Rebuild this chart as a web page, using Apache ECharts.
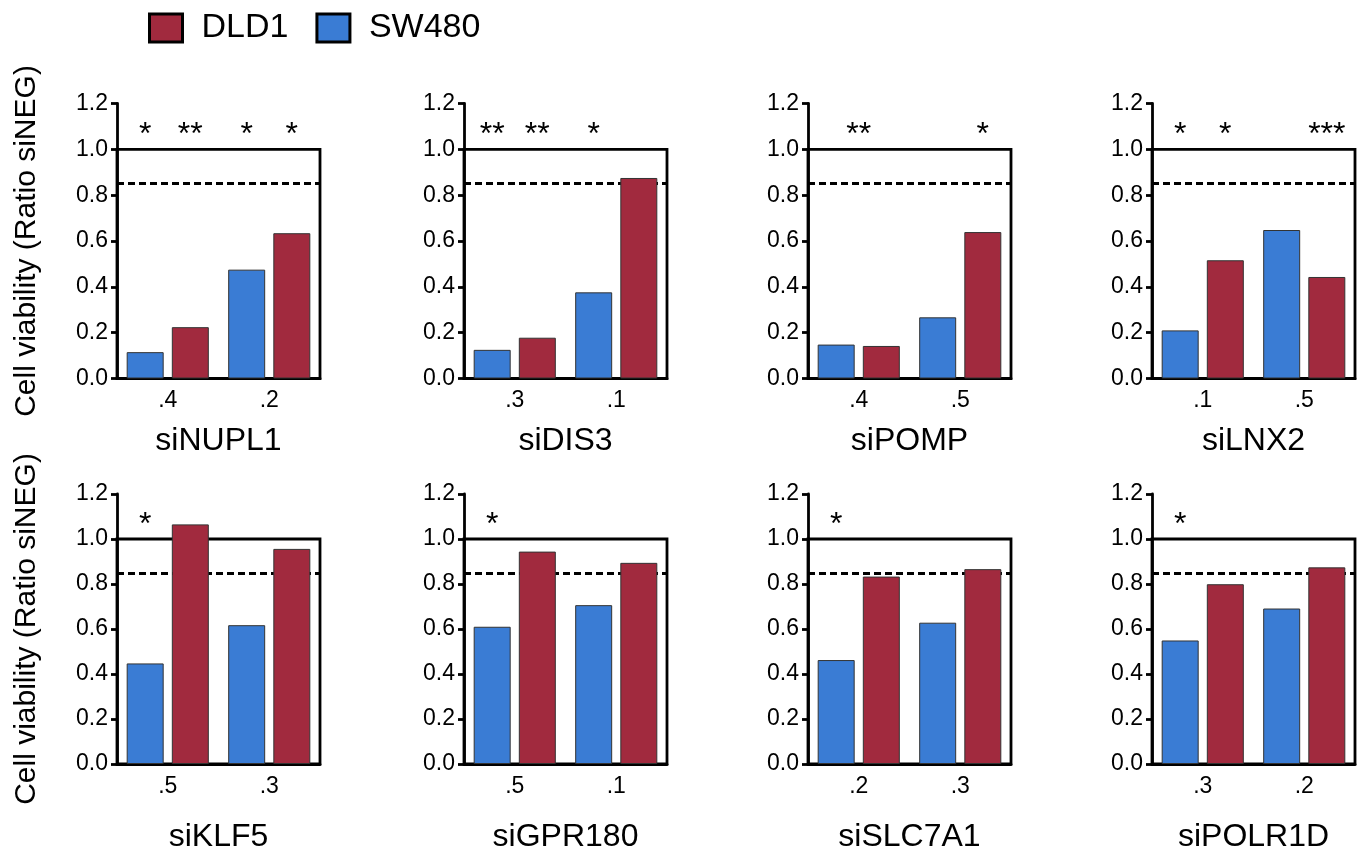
<!DOCTYPE html>
<html><head><meta charset="utf-8">
<script src="https://cdn.jsdelivr.net/npm/echarts@6/dist/echarts.min.js"></script>
<style>html,body{margin:0;padding:0;background:#fff}#c{width:1363px;height:854px}</style>
</head><body><div id="c"></div>
<script>
// ---- data ----
const panels = ['siNUPL1','siDIS3','siPOMP','siLNX2','siKLF5','siGPR180','siSLC7A1','siPOLR1D'];
const doseLabels = [['.4','.2'],['.3','.1'],['.4','.5'],['.1','.5'],['.5','.3'],['.5','.1'],['.2','.3'],['.3','.2']];
const sw480 = [[0.115,0.475],[0.125,0.376],[0.148,0.267],[0.21,0.648],[0.447,0.617],[0.61,0.706],[0.462,0.628],[0.549,0.691]];
const dld1  = [[0.224,0.634],[0.178,0.875],[0.142,0.639],[0.516,0.443],[1.065,0.956],[0.944,0.894],[0.833,0.866],[0.799,0.874]];
// [series ('SW480' | 'DLD1' | 'mid'), category index, text]
const stars = [
  [['SW480',0,'*'],['DLD1',0,'**'],['SW480',1,'*'],['DLD1',1,'*']],
  [['SW480',0,'**'],['DLD1',0,'**'],['SW480',1,'*']],
  [['mid',0,'**'],['DLD1',1,'*']],
  [['SW480',0,'*'],['DLD1',0,'*'],['DLD1',1,'***']],
  [['SW480',0,'*']],
  [['SW480',0,'*']],
  [['SW480',0,'*']],
  [['SW480',0,'*']]
];
const starLevel = 1.06;
const refLine = 0.85;
const boxTop = 1.0;
const yMin = 0, yMax = 1.2, yStep = 0.2;
const yName = 'Cell viability (Ratio siNEG)';

// ---- style/layout ----
const FONT = "'Liberation Sans', Arial, Helvetica, sans-serif";
const RED = '#A12A3E', BLUE = '#3A7CD4';
const lefts = [117, 464, 808, 1152];
const tops = [103.5, 494];
const titleGaps = [47, 57];
const W = 203, H = 275;

const grid = [], xAxis = [], yAxis = [], series = [];
panels.forEach((name, i) => {
  const r = Math.floor(i / 4), c = i % 4;
  grid.push({left: lefts[c], top: tops[r], width: W, height: H, containLabel: false});
  xAxis.push({
    type: 'category', gridIndex: i, data: doseLabels[i], boundaryGap: true,
    axisLine: {lineStyle: {color: '#000', width: 2.8}},
    axisTick: {show: false},
    axisLabel: {color: '#000', fontSize: 23, fontFamily: FONT, margin: 11, interval: 0},
    name: name, nameLocation: 'middle', nameGap: titleGaps[r],
    nameTextStyle: {color: '#000', fontSize: 32, fontFamily: FONT}
  });
  yAxis.push({
    type: 'value', gridIndex: i, min: yMin, max: yMax, interval: yStep,
    splitLine: {show: false},
    axisLine: {show: true, lineStyle: {color: '#000', width: 2.8}},
    axisTick: {show: true, length: 6, lineStyle: {color: '#000', width: 2.8}},
    axisLabel: {color: '#000', fontSize: 23, fontFamily: FONT, margin: 9, formatter: v => v.toFixed(1)},
    name: c === 0 ? yName : '', nameLocation: 'middle', nameGap: 75,
    nameTextStyle: {color: '#000', fontSize: 30, fontFamily: FONT}
  });
  const mp = (key) => ({
    symbol: 'rect', symbolSize: 1, itemStyle: {color: 'rgba(0,0,0,0)'},
    label: {show: true, position: 'inside', color: '#000', fontSize: 32, fontFamily: FONT, formatter: p => p.name},
    data: stars[i].filter(s => s[0] === key).map(s => ({name: s[2], coord: [s[1], starLevel]}))
  });
  series.push({
    type: 'bar', name: 'SW480', xAxisIndex: i, yAxisIndex: i, data: sw480[i],
    barWidth: 37, barGap: '22%', z: 3,
    itemStyle: {color: BLUE, borderColor: '#333', borderWidth: 1},
    markPoint: mp('SW480'),
    markArea: {silent: true, z: 1, itemStyle: {color: 'rgba(0,0,0,0)', borderColor: '#000', borderWidth: 2.8},
      data: [[{yAxis: yMin}, {yAxis: boxTop}]]},
    markLine: {silent: true, z: 1, symbol: 'none', label: {show: false},
      lineStyle: {color: '#000', width: 3, type: [7, 4]},
      data: [{yAxis: refLine}]}
  });
  series.push({
    type: 'bar', name: 'DLD1', xAxisIndex: i, yAxisIndex: i, data: dld1[i],
    barWidth: 37, barGap: '22%', z: 3,
    itemStyle: {color: RED, borderColor: '#333', borderWidth: 1},
    markPoint: mp('DLD1')
  });
  if (stars[i].some(s => s[0] === 'mid')) {
    series.push({
      type: 'line', name: 'mid', xAxisIndex: i, yAxisIndex: i, data: [],
      markPoint: mp('mid')
    });
  }
});

const chart = echarts.init(document.getElementById('c'), null, {renderer: 'canvas'});
chart.setOption({
  animation: false,
  backgroundColor: '#fff',
  legend: {
    data: ['DLD1', 'SW480'], left: 143, top: 6, itemWidth: 33, itemHeight: 28, itemGap: 27,
    icon: 'rect', selectedMode: false,
    itemStyle: {borderColor: '#000', borderWidth: 3},
    textStyle: {color: '#000', fontSize: 34, fontFamily: FONT, padding: [0, 0, 0, 14]}
  },
  grid, xAxis, yAxis, series
});
</script>
</body></html>
